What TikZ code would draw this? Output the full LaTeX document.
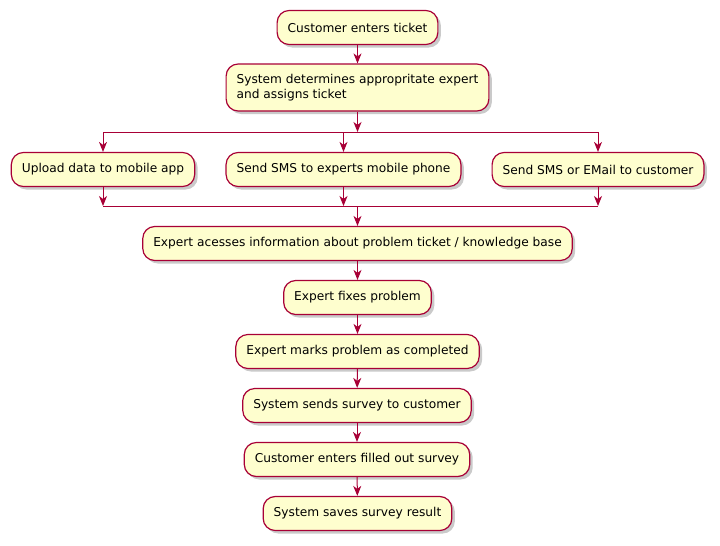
\documentclass[tikz,border=0pt]{standalone}
\usepackage{fontspec}
\setmainfont{DejaVu Sans}
\usetikzlibrary{arrows.meta, shadows}

\definecolor{actfill}{HTML}{FEFECE}
\definecolor{actline}{HTML}{A80036}

\tikzset{
    activity/.style={draw=actline, fill=actfill, line width=1.2pt, rounded corners=12pt,
        minimum height=34pt, inner xsep=10.5pt, font=\fontsize{12.2}{15}\selectfont,
        drop shadow={shadow xshift=3pt, shadow yshift=-3pt, opacity=0.35, fill=black!60}},
    flow/.style={draw=actline, line width=1pt, -{Stealth[length=10pt, width=8pt, inset=3pt]}},
    bar/.style={draw=actline, line width=1pt}
}

\begin{document}
\begin{tikzpicture}[x=1pt, y=-1pt]
    \useasboundingbox (0,0) rectangle (720,546);
    \node [activity] (enter) at (357.5,27.5) {Customer enters ticket};
    \node [activity, align=left, minimum height=47pt] (assign) at (357.5,87.5) {System determines appropritate expert\\and assigns ticket};
    \node [activity] (upload) at (103,169.5) {Upload data to mobile app};
    \node [activity] (sms) at (343.5,169.5) {Send SMS to experts mobile phone};
    \node [activity] (mail) at (598,169.5) {Send SMS or EMail to customer};
    \node [activity] (access) at (357.5,243.5) {Expert acesses information about problem ticket / knowledge base};
    \node [activity] (fix) at (357.5,297.5) {Expert fixes problem};
    \node [activity] (marks) at (357.5,351.5) {Expert marks problem as completed};
    \node [activity] (survey) at (357,405.5) {System sends survey to customer};
    \node [activity] (filled) at (357,459.5) {Customer enters filled out survey};
    \node [activity] (saves) at (357.5,513.5) {System saves survey result};
    \coordinate (split) at (357.5,132);
    \coordinate (join) at (357.5,206);
    \draw [flow] (enter) -- (assign);
    \draw [flow] (assign) -- (split);
    \draw [bar] (upload |- split) -- (mail |- split);
    \draw [bar] (upload |- join) -- (mail |- join);
    \foreach \b in {upload, sms, mail} {
        \draw [flow] (\b |- split) -- (\b);
        \draw [flow] (\b) -- (\b |- join);
    }
    \draw [flow] (join) -- (access);
    \draw [flow] (access) -- (fix);
    \draw [flow] (fix) -- (marks);
    \draw [flow] (marks) -- (survey);
    \draw [flow] (survey) -- (filled);
    \draw [flow] (filled) -- (saves);
\end{tikzpicture}
\end{document}
